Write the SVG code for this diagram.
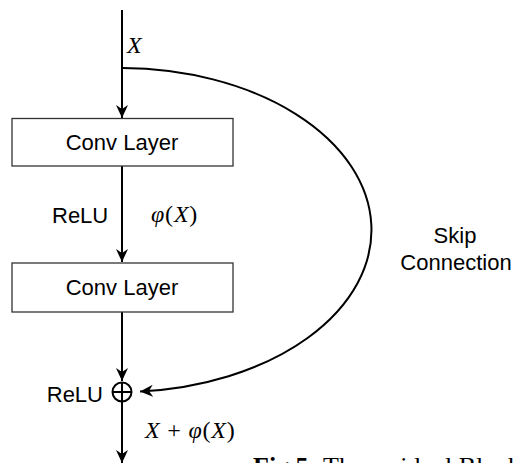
<svg xmlns="http://www.w3.org/2000/svg" width="513" height="463" viewBox="0 0 513 463">
  <style>
    .box { fill: #ffffff; stroke: #333333; stroke-width: 1.3; }
    .lbl { font-family: "Liberation Sans", Arial, sans-serif; font-size: 22px; fill: #000; }
    .math { font-family: "Liberation Serif", "Times New Roman", serif; font-size: 24px; fill: #000; letter-spacing: 0.8px; }
    .wire { fill: none; stroke: #000; stroke-width: 2; }
    .cap { font-family: "Liberation Serif", "Times New Roman", serif; font-size: 26px; fill: #000; }
  </style>
  <defs>
    <marker id="arrow" markerUnits="userSpaceOnUse" markerWidth="14" markerHeight="13" refX="13" refY="6" orient="auto">
      <path d="M0,0 L13,6 L0,12 L4,6 z" fill="#000"/>
    </marker>
  </defs>

  <!-- connectors -->
  <g id="connectors">
    <line class="wire" x1="122" y1="10" x2="122" y2="118" marker-end="url(#arrow)"/>
    <line class="wire" x1="122" y1="166" x2="122" y2="262" marker-end="url(#arrow)"/>
    <line class="wire" x1="122" y1="312" x2="122" y2="381" marker-end="url(#arrow)"/>
    <line class="wire" x1="122" y1="402" x2="122" y2="463" marker-end="url(#arrow)"/>
    <!-- skip connection arc -->
    <path class="wire" d="M123,68 A251,162 0 0 1 140,391.5" marker-end="url(#arrow)"/>
  </g>

  <!-- input label -->
  <text class="math" x="127" y="53" font-size="14" font-style="italic" letter-spacing="0">X</text>

  <g id="conv1">
    <rect class="box" x="12" y="118.5" width="221" height="47.5"/>
    <text class="lbl" x="122" y="150" text-anchor="middle">Conv Layer</text>
  </g>

  <g id="act1">
    <text class="lbl" x="52" y="223">ReLU</text>
    <text class="math" x="151" y="222"><tspan font-style="italic">φ</tspan>(<tspan font-style="italic">X</tspan>)</text>
  </g>

  <g id="conv2">
    <rect class="box" x="12" y="263" width="221" height="49"/>
    <text class="lbl" x="122" y="295" text-anchor="middle">Conv Layer</text>
  </g>

  <g id="add">
    <circle cx="122" cy="392" r="9.5" fill="#fff" stroke="#000" stroke-width="2"/>
    <line x1="112.5" y1="392" x2="131.5" y2="392" stroke="#000" stroke-width="2"/>
    <line x1="122" y1="382.5" x2="122" y2="401.5" stroke="#000" stroke-width="2"/>
    <text class="lbl" x="103" y="402" text-anchor="end">ReLU</text>
  </g>

  <g id="output">
    <text class="math" x="145" y="438"><tspan font-style="italic">X</tspan> + <tspan font-style="italic">φ</tspan>(<tspan font-style="italic">X</tspan>)</text>
  </g>

  <g id="skip-label">
    <text class="lbl" x="455" y="243" text-anchor="middle">Skip</text>
    <text class="lbl" x="456" y="270" text-anchor="middle">Connection</text>
  </g>

  <text class="cap" x="253" y="475"><tspan font-weight="bold">Fig.5.</tspan></text>
  <text class="cap" x="323" y="475">The residual Block</text>
</svg>
